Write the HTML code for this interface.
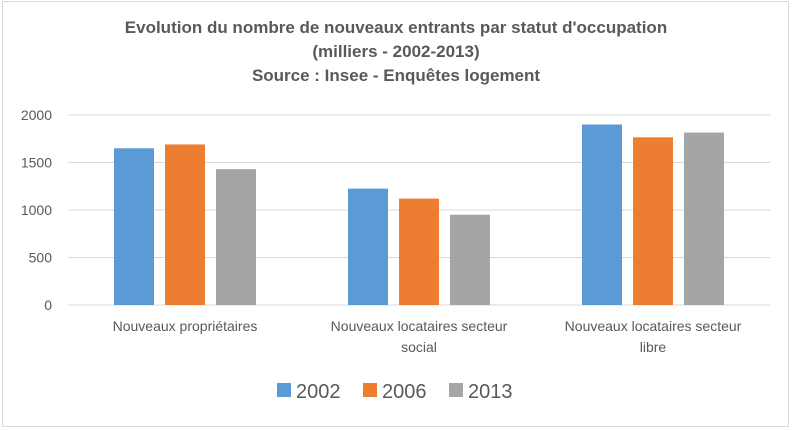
<!DOCTYPE html>
<html><head><meta charset="utf-8"><style>
body{margin:0;background:#fff;}
svg{display:block;font-family:"Liberation Sans",sans-serif;}
</style></head><body>
<svg id="chart" width="792" height="430">
<rect x="2.5" y="1.5" width="786" height="425" fill="#fff" stroke="#d9d9d9"/>
<g font-weight="bold" font-size="17" fill="#595959" text-anchor="middle">
<text x="396" y="33">Evolution du nombre de nouveaux entrants par statut d'occupation</text>
<text x="396" y="57">(milliers - 2002-2013)</text>
<text x="396" y="81">Source : Insee - Enquêtes logement</text>
</g>
<g id="grid"></g><g id="bars"></g><g id="xlabels"></g><g id="legend"></g>
</svg>
<script>
const categories=[["Nouveaux propriétaires"],["Nouveaux locataires secteur","social"],["Nouveaux locataires secteur","libre"]];
const seriesNames=["2002","2006","2013"];
const s2002=[1650,1225,1900];
const s2006=[1690,1120,1765];
const s2013=[1430,950,1815];
const yTicks=[0,500,1000,1500,2000];
const colors=["#5b9bd5","#ed7d31","#a5a5a5"];
const NS="http://www.w3.org/2000/svg";
const L=68,R=770,Y0=305,Ytop=115,YMAX=2000;
const y=v=>Y0-(v/YMAX)*(Y0-Ytop);
const gw=(R-L)/categories.length;
function mk(t,a,p){const e=document.createElementNS(NS,t);for(const k in a)e.setAttribute(k,a[k]);p.appendChild(e);return e;}
const grid=document.getElementById('grid');
yTicks.forEach(t=>{
 const l=mk('line',{x1:L,x2:R,y1:y(t),y2:y(t),stroke:'#d9d9d9','stroke-width':1},grid);
 
 
 const tx=mk('text',{x:52,y:y(t)+5,'text-anchor':'end','font-size':14,fill:'#595959'},grid);
 tx.textContent=t;
 
 
});
const series=[s2002,s2006,s2013];
const bars=document.getElementById('bars');
const bw=40,gap=11;
categories.forEach((c,i)=>{
 const cx=L+gw*(i+0.5);
 series.forEach((s,j)=>{
  const x=cx-(3*bw+2*gap)/2+j*(bw+gap);
  const r=mk('rect',{x:x,y:y(s[i]),width:bw,height:Y0-y(s[i]),fill:colors[j]},bars);
  
  
 });
 const xl=document.getElementById('xlabels');
 c.forEach((line,k)=>{
  const t=mk('text',{x:cx,y:331+k*21,'text-anchor':'middle','font-size':14,fill:'#595959'},xl);
  t.textContent=line;
  
  
 });
});
const lg=document.getElementById('legend');
const lx=[277,363,449];
seriesNames.forEach((n,j)=>{
 const r=mk('rect',{x:lx[j],y:383,width:14,height:14,fill:colors[j]},lg);
 
 
 const t=mk('text',{x:lx[j]+19,y:398,'font-size':20,fill:'#595959'},lg);
 t.textContent=n;
 
 
});
</script>
</body></html>
